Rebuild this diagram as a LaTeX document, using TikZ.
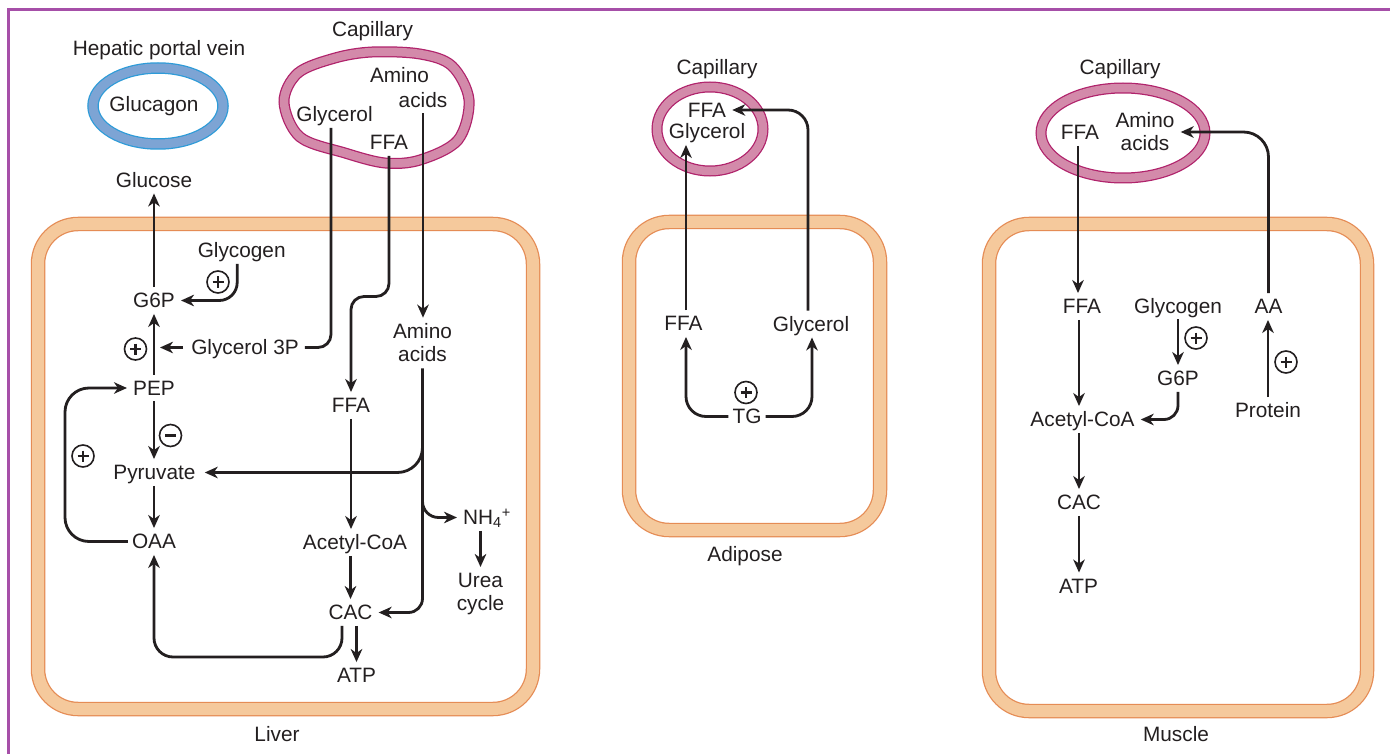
\documentclass[tikz,border=0pt]{standalone}
\usepackage{fontspec}
\setmainfont{Liberation Sans}
\usetikzlibrary{arrows.meta,calc}
\definecolor{ink}{HTML}{231F20}
\definecolor{framec}{HTML}{A64FA8}
\definecolor{cellfill}{HTML}{F5C99C}
\definecolor{cellout}{HTML}{E58C55}
\definecolor{capfill}{HTML}{D38AAA}
\definecolor{capout}{HTML}{B0226B}
\definecolor{veinfill}{HTML}{7DA4D4}
\definecolor{veinout}{HTML}{2D9BD8}
\newcommand\figfont{\fontsize{20.8}{23}\selectfont}
\tikzset{
  lbl/.style={font=\figfont, text=ink, inner xsep=6pt, inner ysep=6pt, text height=14.5pt, text depth=0pt},
  lbltwo/.style={font=\figfont, text=ink, inner sep=6pt, align=center},
  flow/.style={draw=ink, line width=2.8pt, -{Stealth[length=13pt,width=11.5pt,inset=4pt]}},
  plainline/.style={draw=ink, line width=2.8pt},
  plussign/.style={circle, draw=ink, line width=1.6pt, minimum size=22pt, inner sep=0pt,
    path picture={\draw[ink, line width=2.6pt] ($(path picture bounding box.center)+(-5.5,0)$) -- ++(11,0)
      ($(path picture bounding box.center)+(0,-5.5)$) -- ++(0,11);}},
  minussign/.style={circle, draw=ink, line width=1.6pt, minimum size=22pt, inner sep=0pt,
    path picture={\draw[ink, line width=2.6pt] ($(path picture bounding box.center)+(-5.5,0)$) -- ++(11,0);}},
  cellband/.style={line width=14.5pt, draw=cellout, rounded corners=40pt},
  cellbandin/.style={line width=12pt, draw=cellfill, rounded corners=40pt},
}
\begin{document}
\begin{tikzpicture}[x=1pt,y=-1pt]
\useasboundingbox (0,0) rectangle (1390,754);
\fill[white] (0,0) rectangle (1390,754);
% outer frame
\draw[framec, line width=3pt] (8.5,754) -- (8.5,9.5) -- (1390,9.5);

% cells
\draw[cellband] (38,224) rectangle (533,709);
\draw[cellbandin] (38,224) rectangle (533,709);
\draw[cellband] (629,222) rectangle (880,530);
\draw[cellbandin] (629,222) rectangle (880,530);
\draw[cellband] (989,224) rectangle (1367,711);
\draw[cellbandin] (989,224) rectangle (1367,711);

% vessels
\draw[veinout, line width=11.5pt] (158,106) ellipse [x radius=65pt, y radius=38pt];
\draw[veinfill, line width=9pt] (158,106) ellipse [x radius=65pt, y radius=38pt];
\draw[capout, line width=11pt] plot[smooth cycle, tension=0.55] coordinates {(284,102) (298,73) (335,58) (372,52) (420,54) (452,66) (469,100) (458,140) (420,160) (385,163) (345,153) (300,137)};
\draw[capfill, line width=8.5pt] plot[smooth cycle, tension=0.55] coordinates {(284,102) (298,73) (335,58) (372,52) (420,54) (452,66) (469,100) (458,140) (420,160) (385,163) (345,153) (300,137)};
\draw[capout, line width=11pt] (710,129) ellipse [x radius=53pt, y radius=42pt];
\draw[capfill, line width=8.5pt] (710,129) ellipse [x radius=53pt, y radius=42pt];
\draw[capout, line width=11pt] (1123,133) ellipse [x radius=82pt, y radius=45pt];
\draw[capfill, line width=8.5pt] (1123,133) ellipse [x radius=82pt, y radius=45pt];

% ---------- Liver ----------
\node[lbl] (hpv) at (159,48) {Hepatic portal vein};
\node[lbl] (glucagon) at (154,104.5) {Glucagon};
\node[lbl] (capL) at (372.5,29.5) {Capillary};
\node[lbl] (cGly) at (334.5,114.5) {Glycerol};
\node[lbl] (cFFA) at (389,142.5) {FFA};
\node[lbl] (cAmino) at (399.5,75.5) {Amino};
\node[lbl] (cAcids) at (423,100) {acids};
\node[lbl] (glucose) at (154,180) {Glucose};
\node[lbl] (glycogenL) at (241.7,250.5) {Glycogen};
\node[lbl] (g6pL) at (154,300.5) {G6P};
\node[lbl] (g3p) at (245,347.5) {Glycerol 3P};
\node[lbl] (pep) at (154,388) {PEP};
\node[lbl] (pyr) at (154.5,472.5) {Pyruvate};
\node[lbl] (oaa) at (154,541.5) {OAA};
\node[lbl] (ffaL) at (351,405.5) {FFA};
\node[lbltwo] (aminoL) at (422.5,343) {Amino\\acids};
\node[lbl] (acoaL) at (355,542.5) {Acetyl-CoA};
\node[lbl] (cac) at (350.5,612.5) {CAC};
\node[lbl] (atpL) at (356.5,675.5) {ATP};
\node[lbl, anchor=west] (nh4) at (457,517.5) {NH\textsubscript{4}\textsuperscript{+}};
\node[lbltwo] (urea) at (480.5,594) {Urea\\cycle};
\node[lbl] (liver) at (277,734.5) {Liver};

\node[plussign] (pl1) at (218,282) {};
\node[plussign] (pl2) at (135.5,349) {};
\node[plussign] (pl3) at (83,456) {};
\node[minussign] (mi1) at (170.5,435.5) {};

\coordinate (g3ptip) at (160,347.5);
\coordinate (ffabend) at (370,296.5);
\coordinate (aaPyr) at (422.5,440);
\coordinate (aaNH) at (422.5,495);
\coordinate (loopL) at (65,460);
\coordinate (cacbot) at (250,657);

\draw[flow] (g6pL.north) -- (glucose.south);
\draw[flow, rounded corners=18pt] ([xshift=-4.5pt]glycogenL.south) |- (g6pL.east);
\draw[flow] (pep.north) -- (g6pL.south);
\draw[flow] ([xshift=-2pt]g3p.west) -- (g3ptip);
\draw[plainline, rounded corners=13pt] ([xshift=-3.5pt]cGly.south) |- (g3p.east);
\draw[flow, rounded corners=13pt] (cFFA.south) -- (cFFA.south |- ffabend) -- (ffabend -| ffaL.north) -- (ffaL.north);
\draw[flow] (cAcids.south) -- (cAcids.south |- aminoL.north);
\draw[flow] (pep.south) -- (pep.south |- pyr.north);
\draw[flow] (pyr.south -| oaa) -- (oaa.north);
\draw[flow, rounded corners=24pt] ([xshift=2pt]oaa.west) -- (oaa.west -| loopL) -- (loopL |- pep.west) -- (pep.west);
\draw[flow, rounded corners=14pt] (aminoL.south) |- (cac.east);
\draw[flow, rounded corners=25pt] (aaPyr) |- ([xshift=3pt]pyr.east);
\draw[flow, rounded corners=16pt] (aaNH) |- (nh4.west);
\draw[flow] (urea.north |- nh4.south) -- (urea.north);
\draw[flow] (ffaL.south) -- (ffaL.south |- acoaL.north);
\draw[flow] (cac.north |- acoaL.south) -- (cac.north);
\draw[flow] (atpL.north |- cac.south) -- (atpL.north);
\draw[flow, rounded corners=19pt] ([xshift=-8.5pt]cac.south) -- ([xshift=-8.5pt]cac.south |- cacbot) -- (cacbot -| oaa.south) -- (oaa.south);

% ---------- Adipose ----------
\node[lbl] (capA) at (717,67.5) {Capillary};
\node[lbl] (aFFAc) at (707,110) {FFA};
\node[lbl] (aGlyc) at (707,131.5) {Glycerol};
\node[lbl] (aFFA) at (683.5,323.5) {FFA};
\node[lbl] (aGly) at (811,324) {Glycerol};
\node[lbl] (tg) at (747,416.5) {TG};
\node[plussign] (pl4) at (746,392.5) {};
\node[lbl] (adipose) at (745,554) {Adipose};

\draw[flow] ([xshift=2.5pt]aFFA.north) -- ([xshift=2.5pt]aFFA.north |- aGlyc.south);
\draw[flow, rounded corners=20pt] ([xshift=-3pt]aGly.north) |- (aFFAc.east);
\draw[flow, rounded corners=20pt] ([xshift=2pt]tg.west) -| ([xshift=2.5pt]aFFA.south);
\draw[flow, rounded corners=20pt] ([xshift=-2pt]tg.east) -| ([xshift=1pt]aGly.south);

% ---------- Muscle ----------
\node[lbl] (capM) at (1120,67.5) {Capillary};
\node[lbl] (mFFAc) at (1080,132.5) {FFA};
\node[lbltwo] (mAmino) at (1145,132) {Amino\\acids};
\node[lbl] (mFFA) at (1082,306.5) {FFA};
\node[lbl] (mGlyc) at (1178,306) {Glycogen};
\node[lbl] (mAA) at (1268.5,306.5) {AA};
\node[lbl] (mG6P) at (1178,378.5) {G6P};
\node[lbl] (mAcoa) at (1082.5,419.5) {Acetyl-CoA};
\node[lbl] (mProt) at (1268,410.5) {Protein};
\node[lbl] (mCAC) at (1079,502.5) {CAC};
\node[lbl] (mATP) at (1078.5,586) {ATP};
\node[plussign] (pl5) at (1196,338) {};
\node[plussign] (pl6) at (1286,362) {};
\node[lbl] (muscle) at (1176,734.5) {Muscle};

\draw[flow] ([xshift=-2pt]mFFAc.south) -- ([xshift=-2pt]mFFAc.south |- mFFA.north);
\draw[flow] ([xshift=-3pt]mFFA.south) -- ([xshift=-3pt]mFFA.south |- mAcoa.north);
\draw[flow] (mGlyc.south) -- (mG6P.north);
\draw[flow, rounded corners=14pt] (mG6P.south) |- (mAcoa.east);
\draw[flow] (mProt.north) -- (mProt.north |- mAA.south);
\draw[flow, rounded corners=25pt] (mAA.north) |- (mAmino.east);
\draw[flow] (mCAC.north |- mAcoa.south) -- (mCAC.north);
\draw[flow] (mCAC.south) -- (mCAC.south |- mATP.north);
\end{tikzpicture}
\end{document}
